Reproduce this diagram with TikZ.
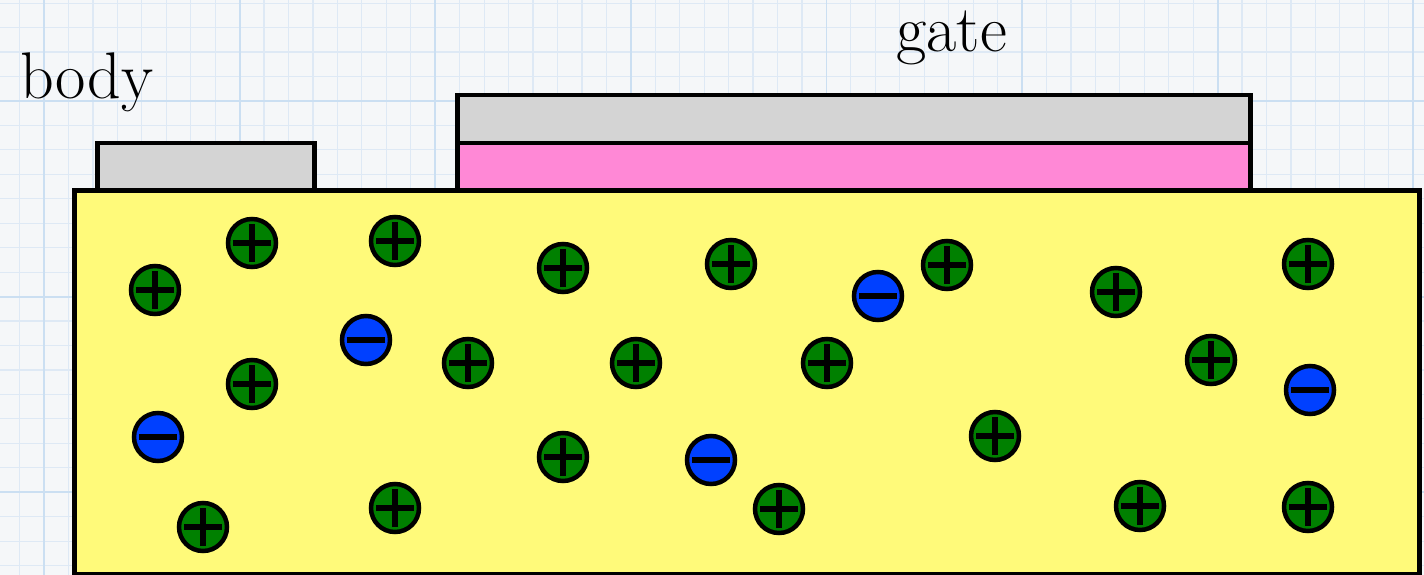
\documentclass[tikz,border=0pt]{standalone}
\usepackage{tikz}
\usetikzlibrary{positioning}
\definecolor{cPaper}{RGB}{245,247,249}
\definecolor{cMinor}{RGB}{222,233,245}
\definecolor{cMajor}{RGB}{203,223,242}
\definecolor{cBulk}{RGB}{255,250,122}
\definecolor{cMetal}{RGB}{212,212,212}
\definecolor{cOxide}{RGB}{255,136,214}
\definecolor{cHole}{RGB}{0,128,0}
\definecolor{cElec}{RGB}{0,64,255}

\begin{document}
\begin{tikzpicture}[x=1pt, y=-1pt,
  layer/.style={draw, line width=4.5pt, inner sep=0pt, anchor=north west},
  lbl/.style={font=\fontsize{66}{66}\selectfont, inner sep=0pt, anchor=base west},
  hole/.style={circle, draw, line width=4.5pt, fill=cHole, minimum size=48pt, inner sep=0pt,
    path picture={
      \draw[line width=5.5pt] ([xshift=-19pt]path picture bounding box.center) -- ([xshift=19pt]path picture bounding box.center);
      \draw[line width=5.5pt] ([yshift=-19pt]path picture bounding box.center) -- ([yshift=19pt]path picture bounding box.center);}},
  elec/.style={circle, draw, line width=4.5pt, fill=cElec, minimum size=48pt, inner sep=0pt,
    path picture={
      \draw[line width=6.5pt] ([xshift=-19pt]path picture bounding box.center) -- ([xshift=19pt]path picture bounding box.center);}}]
  \useasboundingbox (0,0) rectangle (1424,575);
  % graph paper
  \fill[cPaper] (0,0) rectangle (1424,575);
  \foreach \k in {-1,...,58} {
    \draw[cMinor, line width=1.2pt] ({44+24.45*\k},0) -- ({44+24.45*\k},575);
  }
  \foreach \k in {-4,...,19} {
    \draw[cMinor, line width=1.2pt] (0,{101+24.45*\k}) -- (1424,{101+24.45*\k});
  }
  \foreach \k in {0,...,7} {
    \draw[cMajor, line width=1.8pt] ({44+195.6*\k},0) -- ({44+195.6*\k},575);
  }
  \foreach \k in {0,...,2} {
    \draw[cMajor, line width=1.8pt] (0,{101+195.6*\k}) -- (1424,{101+195.6*\k});
  }

  % contacts and gate stack
  \node[layer, fill=cMetal, minimum width=217pt, minimum height=47pt] (bodyc) at (95,141) {};
  \node[layer, fill=cMetal, minimum width=793pt, minimum height=48pt] (gatem) at (455,93) {};
  \node[layer, fill=cOxide, minimum width=793pt, minimum height=47pt] (oxide) at (455,141) {};
  \node[layer, fill=cBulk, minimum width=1345pt, minimum height=384pt] (bulk) at (72,188) {};

  \node[lbl] (bodylbl) at (20,99) {body};
  \node[lbl] (gatelbl) at (896,52) {gate};

  % carriers
  \foreach \p [count=\i] in {(155,290), (252,243), (395,241), (563,268), (731,264),
      (947,265), (1116,292), (1308,264), (252,384), (468,363), (636,363), (827,363),
      (1211,360), (995,436), (563,457), (203,527), (395,508), (779,509), (1140,506),
      (1308,507)}
    \node[hole] (h\i) at \p {};
  \foreach \p [count=\i] in {(366,340), (158,437), (878,296), (711,460), (1310,390)}
    \node[elec] (e\i) at \p {};
\end{tikzpicture}
\end{document}
